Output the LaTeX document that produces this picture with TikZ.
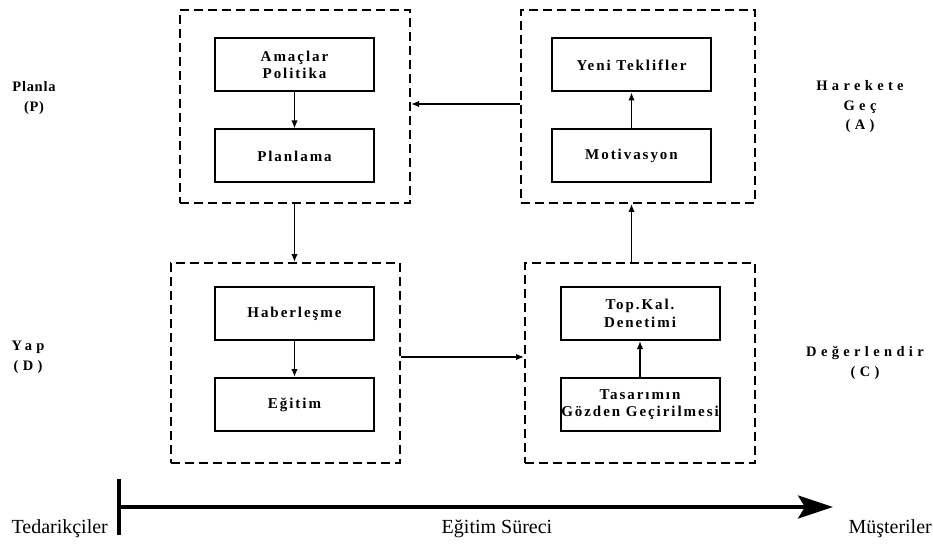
\documentclass[tikz,border=0pt]{standalone}
\usepackage{fontspec}
\setmainfont{Liberation Serif}
\newfontfamily\boxfont[LetterSpace=13]{Liberation Serif}
\newfontfamily\sidefont[LetterSpace=30]{Liberation Serif}
\usetikzlibrary{arrows.meta,positioning}

\begin{document}
\begin{tikzpicture}[x=1pt,y=-1pt,node distance=36pt]
  % Node styles
  \tikzstyle{stepbox}=[draw,line width=2pt,minimum width=159pt,minimum height=53pt,inner sep=0pt,align=center,font=\boxfont\bfseries\fontsize{15}{17.5}\selectfont]
  \tikzstyle{phase}=[draw,line width=2pt,dash pattern=on 9pt off 5pt,inner sep=0pt]
  \tikzstyle{side}=[align=center,font=\sidefont\bfseries\fontsize{14.5}{19.5}\selectfont]
  \tikzstyle{flow}=[-{Latex[length=8pt,width=6.5pt]},line width=1.5pt]

  \useasboundingbox (0,0) rectangle (933,545);

  % Phase frames
  \node[phase,minimum width=230pt,minimum height=193pt] (pfr) at (295,106.5) {};
  \node[phase,minimum width=234pt,minimum height=193pt] (afr) at (638,106.5) {};
  \node[phase,minimum width=229pt,minimum height=200pt] (dfr) at (285.5,363) {};
  \node[phase,minimum width=230pt,minimum height=200pt] (cfr) at (640,363) {};

  % Nodes
  \node[stepbox] (amac) at (294.5,65) {Amaçlar\\Politika};
  \node[stepbox,below=of amac] (plan) {Planlama};
  \node[stepbox] (yeni) at (631.5,65) {Yeni Teklifler};
  \node[stepbox,below=of yeni] (motiv) {Motivasyon};
  \node[stepbox] (haber) at (294.5,313.5) {Haberleşme};
  \node[stepbox,below=of haber] (egitim) {Eğitim};
  \node[stepbox] (topkal) at (640,313.5) {Top.Kal.\\Denetimi};
  \node[stepbox,below=of topkal] (tasarim) {Tasarımın\\Gözden Geçirilmesi};

  % Phase labels
  \node[side] (plabel) at (34,98) {\addfontfeature{LetterSpace=5}Planla\\\addfontfeature{LetterSpace=5}(P)};
  \node[side] (alabel) at (860,107) {Harekete\\Geç\\(A)};
  \node[side] (dlabel) at (28,357.5) {Yap\\(D)};
  \node[side] (clabel) at (865,363) {Değerlendir\\(C)};

  % Connections
  \draw[flow] (amac) -- (plan);
  \draw[flow] (motiv) -- (yeni);
  \draw[flow] (haber) -- (egitim);
  \draw[flow] (tasarim) -- (topkal);
  \draw[flow] (pfr.south -| amac) -- (dfr.north -| amac);
  \draw[flow] ([yshift=6pt]dfr.east) -- ([yshift=6pt]dfr.east -| cfr.west);
  \draw[flow] (cfr.north -| yeni) -- (afr.south -| yeni);
  \draw[flow] ([yshift=2.5pt]afr.west) -- ([yshift=2.5pt]afr.west -| pfr.east);

  % Process axis
  \coordinate (bartop) at (119,479);
  \coordinate (barbot) at (119,535);
  \coordinate (tbegin) at (119,507);
  \coordinate (tend) at (833,507);
  \draw[line width=4pt] (bartop) -- (barbot);
  \draw[line width=4pt,-{Stealth[length=35pt,width=23pt,inset=7pt]}] (tbegin) -- (tend);
  \node[anchor=base west,font=\fontsize{20}{24}\selectfont] (supplier) at (8,533) {Tedarikçiler};
  \node[anchor=base,font=\fontsize{20}{24}\selectfont] (process) at (497,533) {Eğitim Süreci};
  \node[anchor=base east,inner sep=1pt,font=\fontsize{20}{24}\selectfont] (customer) at (933,533) {Müşteriler};
\end{tikzpicture}
\end{document}
